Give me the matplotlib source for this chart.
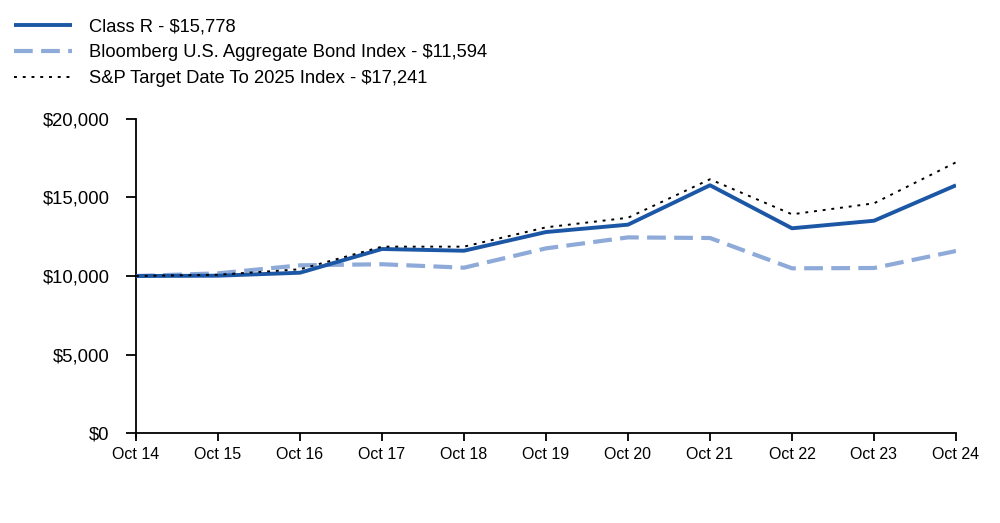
import matplotlib
matplotlib.use("Agg")
import matplotlib.pyplot as plt
from matplotlib.ticker import FuncFormatter

plt.rcParams['font.family'] = ['Liberation Sans', 'DejaVu Sans']

years = ["Oct 14", "Oct 15", "Oct 16", "Oct 17", "Oct 18", "Oct 19",
         "Oct 20", "Oct 21", "Oct 22", "Oct 23", "Oct 24"]
class_r = [10000, 10020, 10210, 11720, 11610, 12800, 13270, 15780, 13040, 13520, 15778]
bloomberg = [10000, 10170, 10680, 10750, 10530, 11760, 12460, 12420, 10490, 10510, 11594]
sp_target = [10000, 10080, 10430, 11870, 11870, 13100, 13710, 16160, 13930, 14630, 17241]

labels = ["Class R - $15,778",
          "Bloomberg U.S. Aggregate Bond Index - $11,594",
          "S&P Target Date To 2025 Index - $17,241"]

fig = plt.figure(figsize=(10, 5.23), dpi=100)
ax = fig.add_axes([0.136, 0.172, 0.820, 0.6005])

x = list(range(len(years)))
l1, = ax.plot(x, class_r, color="#1c57a5", lw=2.8, solid_capstyle="butt", zorder=3)
l2, = ax.plot(x, bloomberg, color="#8eaad9", lw=3.0, dashes=(4.5, 2.0), zorder=2)
l3, = ax.plot(x, sp_target, color="black", lw=1.4, dashes=(1.5, 3.0), zorder=4)

ax.set_xlim(0, 10)
ax.set_ylim(0, 20000)
ax.set_yticks([0, 5000, 10000, 15000, 20000])
ax.yaxis.set_major_formatter(FuncFormatter(lambda v, p: f"${v:,.0f}"))
ax.set_xticks(x)
ax.set_xticklabels(years)

for s in ["top", "right"]:
    ax.spines[s].set_visible(False)
ax.spines["left"].set_linewidth(1.3)
ax.spines["bottom"].set_linewidth(1.3)
ax.spines["left"].set_bounds(-250, 20000)

ax.tick_params(axis="y", direction="out", length=7, width=1.3, pad=12, labelsize=13.3)
ax.tick_params(axis="x", direction="out", length=6, width=1.3, pad=4, labelsize=11.5)

fig.legend([l1, l2, l3], labels, loc="upper left", bbox_to_anchor=(0.001, 0.99),
           frameon=False, fontsize=13.2, handlelength=3.17, handletextpad=0.95,
           labelspacing=0.5, borderaxespad=0.3)

fig.savefig("out.png", dpi=100)
